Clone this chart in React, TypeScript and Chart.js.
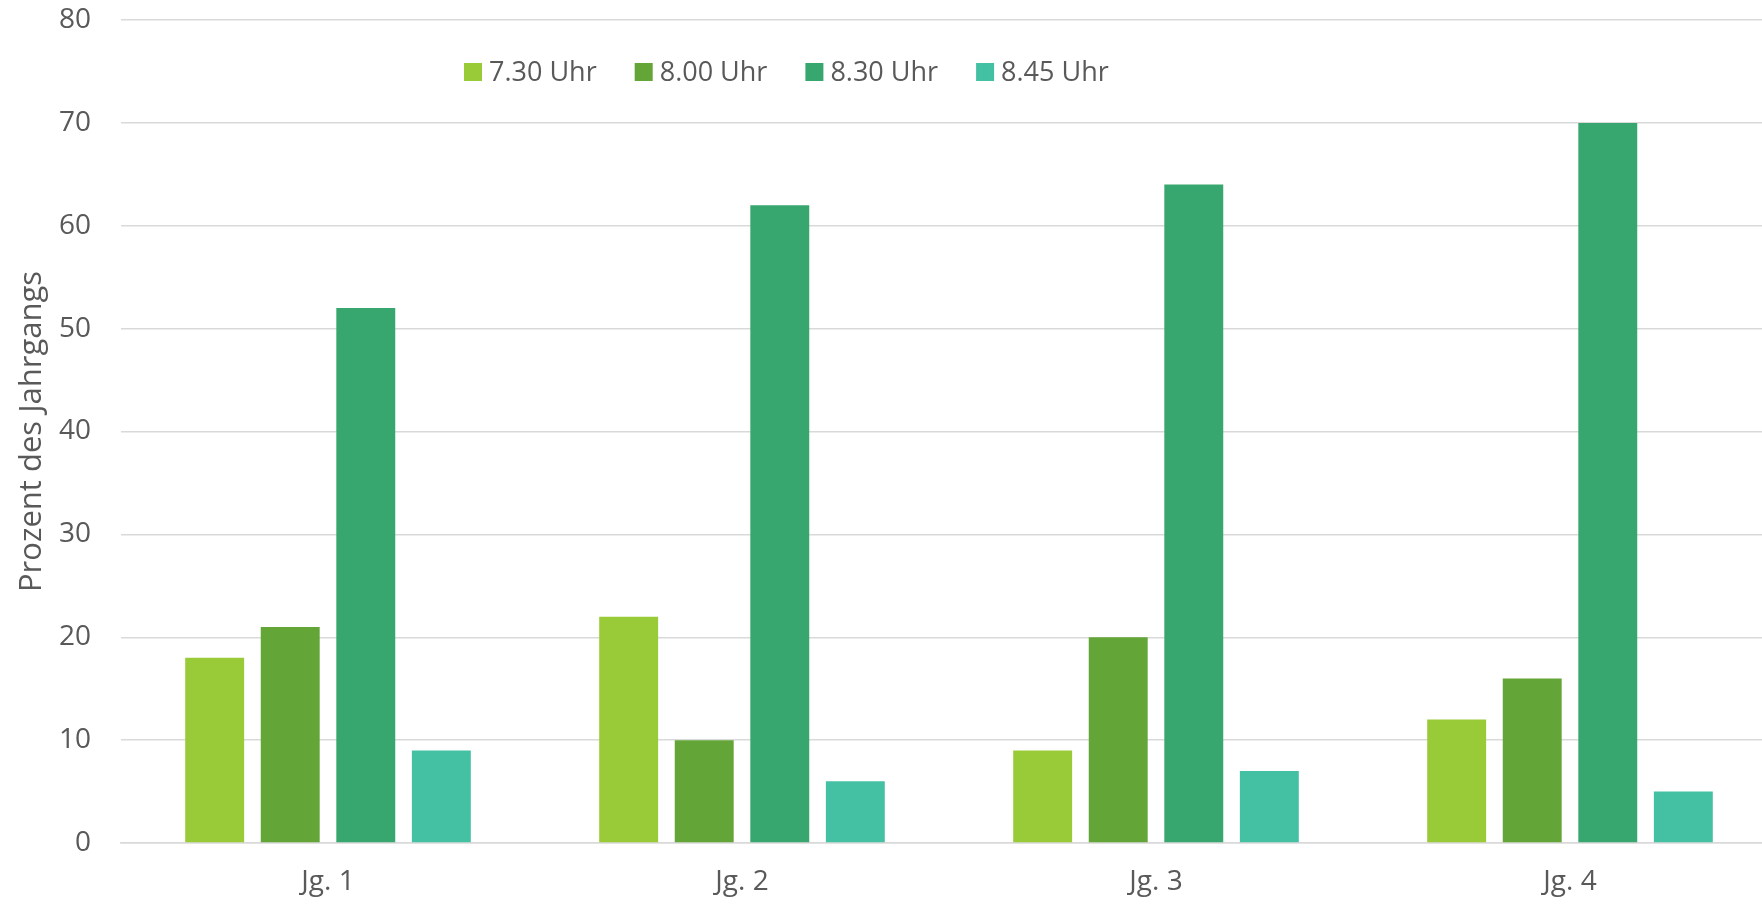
import React, { useEffect, useRef } from "react";
import { Chart, registerables } from "chart.js";

Chart.register(...registerables);

const categories = ["Jg. 1", "Jg. 2", "Jg. 3", "Jg. 4"];
const seriesLabels = ["7.30 Uhr", "8.00 Uhr", "8.30 Uhr", "8.45 Uhr"];
const s730 = [18, 22, 9, 12];
const s800 = [21, 10, 20, 16];
const s830 = [52, 62, 64, 70];
const s845 = [9, 6, 7, 5];
const seriesColors = ["#99CB38", "#63A537", "#37A76F", "#44C1A3"];
const yTicks = [0, 10, 20, 30, 40, 50, 60, 70, 80];

const FONT = '"Open Sans", "DejaVu Sans", sans-serif';
const TEXT = "#595959";
const GRID = "#D9D9D9";

const overlayLegend = {
  id: "overlayLegend",
  afterDatasetsDraw(chart: any) {
    const ctx = chart.ctx;
    ctx.save();
    ctx.font = `27px ${FONT}`;
    ctx.textBaseline = "middle";
    ctx.textAlign = "left";
    let x = 464;
    const cy = 72;
    chart.data.datasets.forEach((ds: any) => {
      ctx.fillStyle = ds.backgroundColor;
      ctx.fillRect(x, cy - 9, 18, 18);
      ctx.fillStyle = TEXT;
      ctx.fillText(ds.label, x + 25, cy + 1);
      x += 25 + ctx.measureText(ds.label).width + 38;
    });
    ctx.restore();
  },
};

export default function App() {
  const ref = useRef<HTMLCanvasElement | null>(null);

  useEffect(() => {
    let chart: Chart | null = null;
    let cancelled = false;
    const make = () => {
      if (cancelled || !ref.current) return;
      const values = [s730, s800, s830, s845];
      chart = new Chart(ref.current, {
        type: "bar",
        data: {
          labels: categories,
          datasets: seriesLabels.map((label, i) => ({
            label,
            data: values[i],
            backgroundColor: seriesColors[i],
            borderWidth: 0,
            categoryPercentage: 0.73,
            barPercentage: 0.78,
          })),
        },
        options: {
          animation: false,
          responsive: false,
          devicePixelRatio: 1,
          layout: { padding: { top: 20, right: 0, bottom: 0, left: 0 } },
          plugins: {
            legend: { display: false },
            tooltip: { enabled: false },
          },
          scales: {
            x: {
              grid: { display: false, drawTicks: false },
              border: { display: true, color: GRID, width: 1.5 },
              ticks: {
                color: TEXT,
                font: { family: FONT, size: 28 },
                padding: 22,
                maxRotation: 0,
              },
              afterFit(scale: any) {
                scale.height = 61;
                scale.paddingLeft = 0;
                scale.paddingRight = 0;
              },
            },
            y: {
              min: 0,
              max: 80,
              afterBuildTicks(scale: any) {
                scale.ticks = yTicks.map((v) => ({ value: v }));
              },
              grid: { color: GRID, lineWidth: 1.5, drawTicks: false },
              border: { display: false },
              ticks: {
                color: TEXT,
                font: { family: FONT, size: 28 },
                padding: 30,
              },
              title: {
                display: true,
                text: "Prozent des Jahrgangs",
                color: TEXT,
                font: { family: FONT, size: 31 },
                padding: { top: 14, bottom: 0 },
              },
              afterFit(scale: any) {
                scale.width = 121;
                scale.paddingTop = 0;
                scale.paddingBottom = 0;
              },
            },
          },
        },
        plugins: [overlayLegend],
      });
    };
    if ((document as any).fonts && (document as any).fonts.load) {
      (document as any).fonts
        .load(`28px "Open Sans"`)
        .then(make, make);
    } else {
      make();
    }
    return () => {
      cancelled = true;
      if (chart) chart.destroy();
    };
  }, []);

  return (
    <div
      style={{
        position: "fixed",
        top: 0,
        left: 0,
        width: 1762,
        height: 904,
        overflow: "hidden",
        background: "#ffffff",
      }}
    >
      <canvas
        ref={ref}
        width={1777}
        height={904}
        style={{ display: "block", width: 1777, height: 904 }}
      />
    </div>
  );
}
